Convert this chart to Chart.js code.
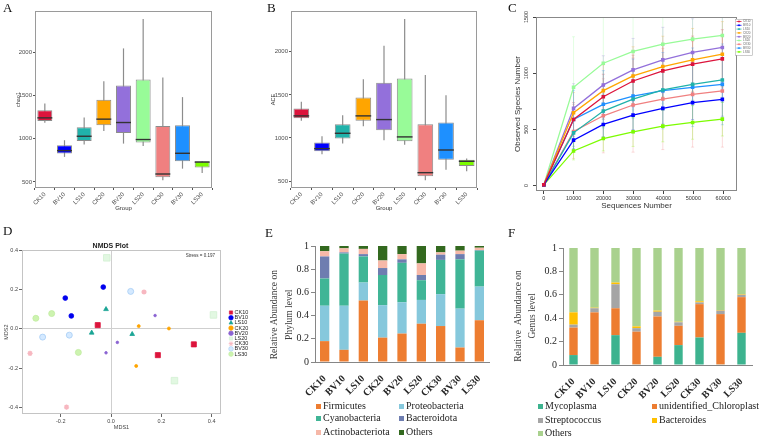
<!DOCTYPE html>
<html>
<head>
<meta charset="utf-8">
<title>Figure</title>
<script src="https://cdn.jsdelivr.net/npm/chart.js@4.4.1/dist/chart.umd.min.js"></script>
<style>
  body { margin: 0; background: #fff; }
  #fig { position: relative; width: 760px; height: 439px; overflow: hidden; background: #fff; }
  #fig canvas { position: absolute; }
  .tag { position: absolute; font: 13px "Liberation Serif", "Times New Roman", serif; color: #111; line-height: 14px; }
  .key { position: absolute; font: 10px "Liberation Serif", "Times New Roman", serif; color: #222; white-space: nowrap; line-height: 12px; }
  .key i { display: inline-block; width: 5px; height: 5px; margin-right: 2px; }
</style>
</head>
<body>
<div id="fig">
  <canvas id="chao" width="255" height="220" style="left:0;top:0"></canvas>
  <canvas id="ace" width="250" height="220" style="left:255px;top:0"></canvas>
  <canvas id="rare" width="255" height="220" style="left:505px;top:0"></canvas>
  <canvas id="nmds" width="260" height="219" style="left:0;top:220px"></canvas>
  <canvas id="phylum" width="245" height="214" style="left:260px;top:225px"></canvas>
  <canvas id="genus" width="255" height="214" style="left:505px;top:225px"></canvas>
  <div class="tag" style="left:3px;top:1px">A</div>
  <div class="tag" style="left:267px;top:1px">B</div>
  <div class="tag" style="left:508px;top:1px">C</div>
  <div class="tag" style="left:3px;top:224px">D</div>
  <div class="tag" style="left:265px;top:226px">E</div>
  <div class="tag" style="left:508px;top:226px">F</div>
</div>
<script>
const groups = ['CK10', 'BV10', 'LS10', 'CK20', 'BV20', 'LS20', 'CK30', 'BV30', 'LS30'];
const groupColors = ['#dc143c', '#0000ff', '#20b2aa', '#ffa500', '#9370db', '#98fb98', '#f08080', '#1e90ff', '#7cfc00'];

// A: chao1 box stats
const chaoMin = [1184, 790, 933, 1091, 944, 917, 519, 654, 604];
const chaoQ1  = [1207, 828, 975, 1157, 1068, 956, 554, 739, 666];
const chaoMed = [1242, 863, 1029, 1227, 1188, 991, 592, 832, 730];
const chaoQ3  = [1331, 925, 1134, 1451, 1617, 1687, 1149, 1157, 740];
const chaoMax = [1408, 983, 1246, 1667, 2046, 2387, 1710, 1482, 742];

// B: ACE box stats
const aceMin = [1198, 810, 934, 1136, 973, 922, 508, 632, 612];
const aceQ1  = [1229, 845, 992, 1198, 1089, 961, 554, 748, 674];
const aceMed = [1256, 876, 1054, 1256, 1213, 1012, 597, 860, 729];
const aceQ3  = [1341, 946, 1159, 1469, 1640, 1690, 1159, 1178, 748];
const aceMax = [1419, 1019, 1264, 1682, 2070, 2380, 1729, 1496, 760];
const boxTicks = [500, 1000, 1500, 2000];

// C: rarefaction curves
const seqDepth = [0, 9950, 19900, 29850, 39800, 49750, 59700];
const obsCK10 = [5, 587, 790, 930, 1020, 1080, 1127];
const obsBV10 = [5, 403, 543, 626, 686, 737, 766];
const obsLS10 = [5, 468, 662, 769, 850, 900, 939];
const obsCK20 = [5, 647, 844, 975, 1059, 1118, 1169];
const obsBV20 = [5, 686, 895, 1029, 1118, 1184, 1229];
const obsLS20 = [5, 874, 1088, 1193, 1258, 1303, 1336];
const obsCK30 = [5, 480, 620, 716, 769, 811, 841];
const obsBV30 = [5, 587, 722, 796, 844, 874, 900];
const obsLS30 = [5, 307, 417, 477, 528, 561, 590];
const errCK10 = [0, 150, 200, 230, 240, 250, 260];
const errBV10 = [0, 80, 110, 130, 140, 150, 150];
const errLS10 = [0, 120, 150, 170, 180, 190, 200];
const errCK20 = [0, 180, 230, 260, 270, 280, 290];
const errBV20 = [0, 220, 260, 280, 290, 300, 300];
const errLS20 = [0, 450, 500, 520, 530, 540, 550];
const errCK30 = [0, 240, 330, 420, 450, 470, 500];
const errBV30 = [0, 260, 300, 330, 340, 350, 360];
const errLS30 = [0, 80, 110, 130, 140, 150, 150];
const rareTicksX = [0, 10000, 20000, 30000, 40000, 50000, 60000];
const rareTicksY = [0, 500, 1000, 1500];

// D: NMDS
const nmdsCK10 = [{x: -0.053, y: 0.019}, {x: 0.186, y: -0.134}, {x: 0.329, y: -0.079}];
const nmdsBV10 = [{x: -0.182, y: 0.157}, {x: -0.158, y: 0.066}, {x: -0.031, y: 0.213}];
const nmdsLS10 = [{x: -0.020, y: 0.100}, {x: -0.077, y: -0.020}, {x: 0.084, y: -0.027}];
const nmdsCK20 = [{x: 0.110, y: 0.014}, {x: 0.230, y: 0.002}, {x: 0.100, y: -0.189}];
const nmdsBV20 = [{x: 0.175, y: 0.068}, {x: 0.025, y: -0.069}, {x: -0.020, y: -0.122}];
const nmdsLS20 = [{x: -0.017, y: 0.362}, {x: 0.407, y: 0.071}, {x: 0.252, y: -0.264}];
const nmdsCK30 = [{x: 0.131, y: 0.188}, {x: -0.322, y: -0.125}, {x: -0.177, y: -0.399}];
const nmdsBV30 = [{x: 0.078, y: 0.191}, {x: -0.272, y: -0.042}, {x: -0.166, y: -0.032}];
const nmdsLS30 = [{x: -0.299, y: 0.054}, {x: -0.236, y: 0.078}, {x: -0.130, y: -0.120}];
const mdsTicksX = [-0.2, 0, 0.2, 0.4];
const mdsTicksY = [-0.4, -0.2, 0, 0.2, 0.4];

// E: phylum level
const phylumNames = ['Firmicutes', 'Proteobacteria', 'Cyanobacteria', 'Bacteroidota', 'Actinobacteriota', 'Others'];
const phylumColors = ['#ed7d31', '#86c8dc', '#40b596', '#6e7db0', '#f6b8a8', '#33691f'];
const firmicutes     = [0.18, 0.105, 0.53, 0.21, 0.245, 0.33, 0.31, 0.125, 0.36];
const proteobacteria = [0.305, 0.38, 0.155, 0.28, 0.27, 0.205, 0.275, 0.335, 0.29];
const cyanobacteria  = [0.235, 0.45, 0.225, 0.26, 0.34, 0.17, 0.295, 0.425, 0.31];
const bacteroidota   = [0.19, 0.01, 0.02, 0.06, 0.03, 0.045, 0.045, 0.045, 0.005];
const actinobacteriota = [0.045, 0.035, 0.045, 0.065, 0.045, 0.1, 0.02, 0.03, 0.02];
const phylumOthers   = [0.045, 0.02, 0.025, 0.125, 0.07, 0.15, 0.055, 0.04, 0.015];

// F: genus level
const genusNames = ['Mycoplasma', 'unidentified_Chloroplast', 'Streptococcus', 'Bacteroides', 'Others'];
const genusColors = ['#3db38f', '#ed7d31', '#a5a5a5', '#ffc000', '#a9d18e'];
const mycoplasma  = [0.085, 0.005, 0.255, 0.005, 0.07, 0.17, 0.235, 0.005, 0.275];
const chloroplast = [0.235, 0.445, 0.23, 0.28, 0.345, 0.165, 0.285, 0.43, 0.305];
const streptococcus = [0.025, 0.035, 0.205, 0.03, 0.04, 0.03, 0.015, 0.03, 0.02];
const bacteroides = [0.105, 0.005, 0.015, 0.015, 0.01, 0.005, 0.01, 0.005, 0.005];
const genusOthers = [0.55, 0.51, 0.295, 0.67, 0.535, 0.63, 0.455, 0.53, 0.395];
const fracTicks = [0, 0.2, 0.4, 0.6, 0.8, 1];

const SANS = '"Liberation Sans", Arial, sans-serif';
const SERIF = '"Liberation Serif", "Times New Roman", serif';
Chart.defaults.font.family = SANS;
Chart.defaults.color = '#4d4d4d';
Chart.defaults.animation = false;
Chart.defaults.responsive = false;
Chart.defaults.plugins.legend.display = false;
Chart.defaults.plugins.tooltip.enabled = false;

const setTicks = list => scale => { scale.ticks = list.map(v => ({value: v})); };
const plain = v => String(v);

function frame(color) {
    return {
        id: 'frame',
        afterDraw(chart) {
            const {ctx, chartArea: a} = chart;
            ctx.save();
            ctx.strokeStyle = color;
            ctx.lineWidth = 1;
            ctx.strokeRect(Math.round(a.left) + 0.5, Math.round(a.top) + 0.5, Math.round(a.width) - 1, Math.round(a.height) - 1);
            ctx.restore();
        }
    };
}

// whiskers behind the boxes, medians on top
function whiskers(lo, hi, med) {
    return {
        id: 'whiskers',
        beforeDatasetsDraw(chart) {
            const {ctx, scales: {y}} = chart;
            ctx.save();
            ctx.strokeStyle = '#8c8c8c';
            ctx.lineWidth = 1.2;
            chart.getDatasetMeta(0).data.forEach((bar, i) => {
                ctx.beginPath();
                ctx.moveTo(bar.x, y.getPixelForValue(lo[i]));
                ctx.lineTo(bar.x, y.getPixelForValue(hi[i]));
                ctx.stroke();
            });
            ctx.restore();
        },
        afterDatasetsDraw(chart) {
            const {ctx, scales: {y}} = chart;
            ctx.save();
            ctx.strokeStyle = '#333';
            ctx.lineWidth = 1.4;
            chart.getDatasetMeta(0).data.forEach((bar, i) => {
                const py = y.getPixelForValue(med[i]);
                ctx.beginPath();
                ctx.moveTo(bar.x - bar.width / 2, py);
                ctx.lineTo(bar.x + bar.width / 2, py);
                ctx.stroke();
            });
            ctx.restore();
        }
    };
}

function boxChart(id, yTitle, yMin, yMax, q1, q3, med, lo, hi, area) {
    return new Chart(document.getElementById(id), {
        type: 'bar',
        data: {
            labels: groups,
            datasets: [{
                data: q1.map((v, i) => [v, q3[i]]),
                backgroundColor: groupColors,
                borderColor: '#8c8c8c',
                borderWidth: 1,
                borderSkipped: false,
                barPercentage: 0.76,
                categoryPercentage: 1
            }]
        },
        options: {
            layout: {padding: {top: 11, right: area.right, left: 0, bottom: 8}},
            scales: {
                x: {
                    grid: {drawOnChartArea: false, tickLength: 2, color: '#555'},
                    border: {display: false},
                    ticks: {autoSkip: false, minRotation: 45, maxRotation: 45, padding: 1, font: {size: 6}},
                    title: {display: true, text: 'Group', font: {size: 6}, color: '#333', padding: 0},
                    afterFit: s => { s.height = 24; }
                },
                y: {
                    min: yMin, max: yMax,
                    afterBuildTicks: setTicks(boxTicks),
                    grid: {drawOnChartArea: false, tickLength: 2, color: '#555'},
                    border: {display: false},
                    ticks: {padding: 1, font: {size: 6}, callback: plain},
                    title: {display: true, text: yTitle, font: {size: 5.5}, color: '#333', padding: {top: 15, bottom: 0}},
                    afterFit: s => { s.width = area.left; }
                }
            }
        },
        plugins: [whiskers(lo, hi, med), frame('#9a9a9a')]
    });
}

boxChart('chao', 'chao1', 430, 2479, chaoQ1, chaoQ3, chaoMed, chaoMin, chaoMax, {left: 35, right: 43});
boxChart('ace', 'ACE', 419, 2473, aceQ1, aceQ3, aceMed, aceMin, aceMax, {left: 36, right: 28});

// C
const rareSeries = [
    {name: 'CK10', obs: obsCK10, err: errCK10},
    {name: 'BV10', obs: obsBV10, err: errBV10},
    {name: 'LS10', obs: obsLS10, err: errLS10},
    {name: 'CK20', obs: obsCK20, err: errCK20},
    {name: 'BV20', obs: obsBV20, err: errBV20},
    {name: 'LS20', obs: obsLS20, err: errLS20},
    {name: 'CK30', obs: obsCK30, err: errCK30},
    {name: 'BV30', obs: obsBV30, err: errBV30},
    {name: 'LS30', obs: obsLS30, err: errLS30}
];

const errorBars = {
    id: 'errorBars',
    beforeDatasetsDraw(chart) {
        const {ctx, chartArea: a, scales: {y}} = chart;
        ctx.save();
        ctx.beginPath();
        ctx.rect(a.left, a.top, a.width, a.height);
        ctx.clip();
        ctx.globalAlpha = 0.35;
        ctx.lineWidth = 0.8;
        chart.data.datasets.forEach((ds, k) => {
            const err = rareSeries[k].err;
            ctx.strokeStyle = ds.borderColor;
            chart.getDatasetMeta(k).data.forEach((pt, i) => {
                if (!err[i]) return;
                const v = rareSeries[k].obs[i];
                const top = y.getPixelForValue(v + err[i]);
                const bot = y.getPixelForValue(v - err[i]);
                ctx.beginPath();
                ctx.moveTo(pt.x, top); ctx.lineTo(pt.x, bot);
                ctx.moveTo(pt.x - 1.5, top); ctx.lineTo(pt.x + 1.5, top);
                ctx.moveTo(pt.x - 1.5, bot); ctx.lineTo(pt.x + 1.5, bot);
                ctx.stroke();
            });
        });
        ctx.restore();
    }
};

const rareLegend = {
    id: 'rareLegend',
    afterDraw(chart) {
        const {ctx} = chart;
        const x0 = 230, y0 = 19, w = 17, h = 36;
        ctx.save();
        ctx.fillStyle = '#fff';
        ctx.fillRect(x0, y0, w, h);
        ctx.strokeStyle = '#aaa';
        ctx.lineWidth = 0.6;
        ctx.strokeRect(x0 + 0.5, y0 + 0.5, w, h);
        ctx.font = '3px ' + SANS;
        ctx.textBaseline = 'middle';
        chart.data.datasets.forEach((ds, i) => {
            const yy = y0 + 2.5 + i * 3.8;
            ctx.strokeStyle = ds.borderColor;
            ctx.lineWidth = 0.8;
            ctx.beginPath();
            ctx.moveTo(x0 + 1.5, yy); ctx.lineTo(x0 + 6.5, yy);
            ctx.stroke();
            ctx.fillStyle = ds.borderColor;
            ctx.fillRect(x0 + 3.2, yy - 0.8, 1.6, 1.6);
            ctx.fillStyle = '#666';
            ctx.fillText(ds.label, x0 + 8, yy);
        });
        ctx.restore();
    }
};

new Chart(document.getElementById('rare'), {
    type: 'line',
    data: {
        datasets: rareSeries.map((s, k) => ({
            label: s.name,
            data: seqDepth.map((d, i) => ({x: d, y: s.obs[i]})),
            borderColor: groupColors[k],
            backgroundColor: groupColors[k],
            borderWidth: 1.3,
            pointStyle: 'rect',
            pointRadius: 1.6,
            tension: 0
        }))
    },
    options: {
        layout: {padding: {top: 17, right: 23, left: 0, bottom: 7}},
        scales: {
            x: {
                type: 'linear', min: -2600, max: 64600,
                afterBuildTicks: setTicks(rareTicksX),
                grid: {drawOnChartArea: false, tickLength: 3, color: '#444'},
                border: {display: false},
                ticks: {padding: 1, font: {size: 5.5}, color: '#333', callback: plain},
                title: {display: true, text: 'Sequences Number', font: {size: 8}, color: '#333', padding: {top: 0, bottom: 2}},
                afterFit: s => { s.height = 22; }
            },
            y: {
                min: -50, max: 1500,
                afterBuildTicks: setTicks(rareTicksY),
                grid: {drawOnChartArea: false, tickLength: 3, color: '#444'},
                border: {display: false},
                ticks: {padding: 0, minRotation: 90, maxRotation: 90, crossAlign: 'center', font: {size: 5.5}, color: '#333', callback: plain},
                title: {display: true, text: 'Observed Species Number', font: {size: 8}, color: '#333', padding: {top: 8, bottom: 0}},
                afterFit: s => { s.width = 31; }
            }
        }
    },
    plugins: [errorBars, frame('#888'), rareLegend]
});

// D
const nmdsGroups = [
    {name: 'CK10', pts: nmdsCK10},
    {name: 'BV10', pts: nmdsBV10},
    {name: 'LS10', pts: nmdsLS10},
    {name: 'CK20', pts: nmdsCK20},
    {name: 'BV20', pts: nmdsBV20},
    {name: 'LS20', pts: nmdsLS20},
    {name: 'CK30', pts: nmdsCK30},
    {name: 'BV30', pts: nmdsBV30},
    {name: 'LS30', pts: nmdsLS30}
];
const nmdsLook = [
    {style: 'rect', r: 3.6, fill: '#dc143c', line: '#dc143c'},
    {style: 'circle', r: 2.4, fill: '#0000ee', line: '#0000ee'},
    {style: 'triangle', r: 2.7, fill: '#1aa595', line: '#1aa595'},
    {style: 'circle', r: 1.5, fill: '#ffa500', line: '#ffa500'},
    {style: 'circle', r: 1.3, fill: '#8a63d2', line: '#8a63d2'},
    {style: 'rect', r: 4.6, fill: '#e2f8e2', line: '#d2f0d2'},
    {style: 'star', r: 2.6, fill: '#f7b7c0', line: '#f7b7c0'},
    {style: 'circle', r: 3, fill: '#d4e9ff', line: '#a6cdf5'},
    {style: 'circle', r: 3, fill: '#cdf3b0', line: '#c0eca0'}
];

const nmdsExtras = {
    id: 'nmdsExtras',
    afterDraw(chart) {
        const {ctx} = chart;
        ctx.save();
        ctx.textBaseline = 'middle';
        chart.data.datasets.forEach((ds, i) => {
            const yy = 92.5 + i * 5.2;
            ctx.fillStyle = ds.backgroundColor;
            ctx.strokeStyle = ds.borderColor;
            ctx.lineWidth = ds.pointStyle === 'star' ? 1 : 0.6;
            const opts = {pointStyle: ds.pointStyle, radius: 2.3, rotation: 0, borderWidth: ctx.lineWidth};
            if (Chart.helpers && Chart.helpers.drawPoint) {
                Chart.helpers.drawPoint(ctx, opts, 231, yy);
            } else {
                ctx.fillRect(229.5, yy - 1.5, 3, 3);
            }
            ctx.fillStyle = '#222';
            ctx.font = '5.5px ' + SANS;
            ctx.textAlign = 'left';
            ctx.fillText(ds.label, 234.5, yy);
        });
        ctx.fillStyle = '#333';
        ctx.font = '4.5px ' + SANS;
        ctx.textAlign = 'right';
        ctx.fillText('Stress = 0.197', 215, 36);
        ctx.restore();
    }
};

const zeroLine = c => (c.tick && Math.abs(c.tick.value) < 1e-9) ? '#cfcfcf' : 'rgba(0,0,0,0)';

new Chart(document.getElementById('nmds'), {
    type: 'scatter',
    data: {
        datasets: nmdsGroups.map((g, i) => ({
            label: g.name,
            data: g.pts,
            pointStyle: nmdsLook[i].style,
            pointRadius: nmdsLook[i].r,
            backgroundColor: nmdsLook[i].fill,
            borderColor: nmdsLook[i].line,
            borderWidth: nmdsLook[i].style === 'star' ? 1.4 : 0.8
        }))
    },
    options: {
        layout: {padding: {top: 22, right: 39, left: 0, bottom: 8.7}},
        plugins: {
            title: {display: true, text: 'NMDS Plot', font: {size: 7, weight: 'bold'}, color: '#222', padding: {top: 0, bottom: 0}}
        },
        scales: {
            x: {
                type: 'linear', min: -0.354, max: 0.437,
                afterBuildTicks: setTicks(mdsTicksX),
                grid: {color: zeroLine, tickColor: '#666', tickLength: 3},
                border: {display: false},
                ticks: {padding: 1, font: {size: 5.5}, color: '#444', callback: v => v.toFixed(1)},
                title: {display: true, text: 'MDS1', font: {size: 5.5}, color: '#444', padding: 0},
                afterFit: s => { s.height = 16.3; }
            },
            y: {
                min: -0.434, max: 0.4,
                afterBuildTicks: setTicks(mdsTicksY),
                grid: {color: zeroLine, tickColor: '#666', tickLength: 3},
                border: {display: false},
                ticks: {padding: 1, font: {size: 5.5}, color: '#444', callback: v => v.toFixed(1)},
                title: {display: true, text: 'MDS2', font: {size: 5.5}, color: '#444', padding: {top: 2.7, bottom: 0}},
                afterFit: s => { s.width = 22; }
            }
        }
    },
    plugins: [frame('#c4c4c4'), nmdsExtras]
});

// E, F
function stackChart(id, names, colors, series, yTitle, box) {
    return new Chart(document.getElementById(id), {
        type: 'bar',
        data: {
            labels: groups,
            datasets: series.map((d, i) => ({
                label: names[i],
                data: d,
                backgroundColor: colors[i],
                barPercentage: box.bar,
                categoryPercentage: 1
            }))
        },
        options: {
            layout: {padding: {top: box.top, right: box.right, left: 0, bottom: box.bottom}},
            scales: {
                x: {
                    stacked: true,
                    grid: {display: false},
                    border: {display: true, color: '#868686'},
                    ticks: {autoSkip: false, minRotation: 45, maxRotation: 45, padding: 3, color: '#262626', font: {family: SERIF, size: 10, weight: 'bold'}},
                    afterFit: s => { s.height = 40; }
                },
                y: {
                    stacked: true, min: 0, max: 1,
                    afterBuildTicks: setTicks(fracTicks),
                    grid: {drawOnChartArea: false, tickLength: 4, color: '#868686'},
                    border: {display: true, color: '#868686'},
                    ticks: {padding: 2, color: '#262626', font: {family: SERIF, size: 10}, callback: plain},
                    title: {display: true, text: yTitle, color: '#404040', font: {family: SERIF, size: 9.5, lineHeight: 1.55}, padding: {top: box.tpad, bottom: 0}},
                    afterFit: s => { s.width = box.left; }
                }
            }
        }
    });
}

// trailing blanks nudge the rotated titles down to where the original sits
stackChart('phylum', phylumNames, phylumColors,
    [firmicutes, proteobacteria, cyanobacteria, bacteroidota, actinobacteriota, phylumOthers],
    ['Relative Abundance on         ', 'Phylum level         '],
    {top: 21, right: 16, bottom: 37, left: 55, tpad: 7.6, bar: 0.48});
stackChart('genus', genusNames, genusColors,
    [mycoplasma, chloroplast, streptococcus, bacteroides, genusOthers],
    ['Relative  Abundance on        ', 'Genus level        '],
    {top: 23, right: 8, bottom: 34, left: 58, tpad: 5.9, bar: 0.4});

// legends under E and F
function keyBlock(names, colors, cols, rows) {
    const fig = document.getElementById('fig');
    names.forEach((n, i) => {
        const el = document.createElement('div');
        el.className = 'key';
        el.style.left = cols[i % 2] + 'px';
        el.style.top = (rows[Math.floor(i / 2)] - 6) + 'px';
        el.innerHTML = '<i style="background:' + colors[i] + '"></i>' + n;
        fig.appendChild(el);
    });
}
keyBlock(phylumNames, phylumColors, [316, 399], [406, 418, 432]);
keyBlock(genusNames, genusColors, [538, 652], [406, 420, 433]);
</script>
</body>
</html>
